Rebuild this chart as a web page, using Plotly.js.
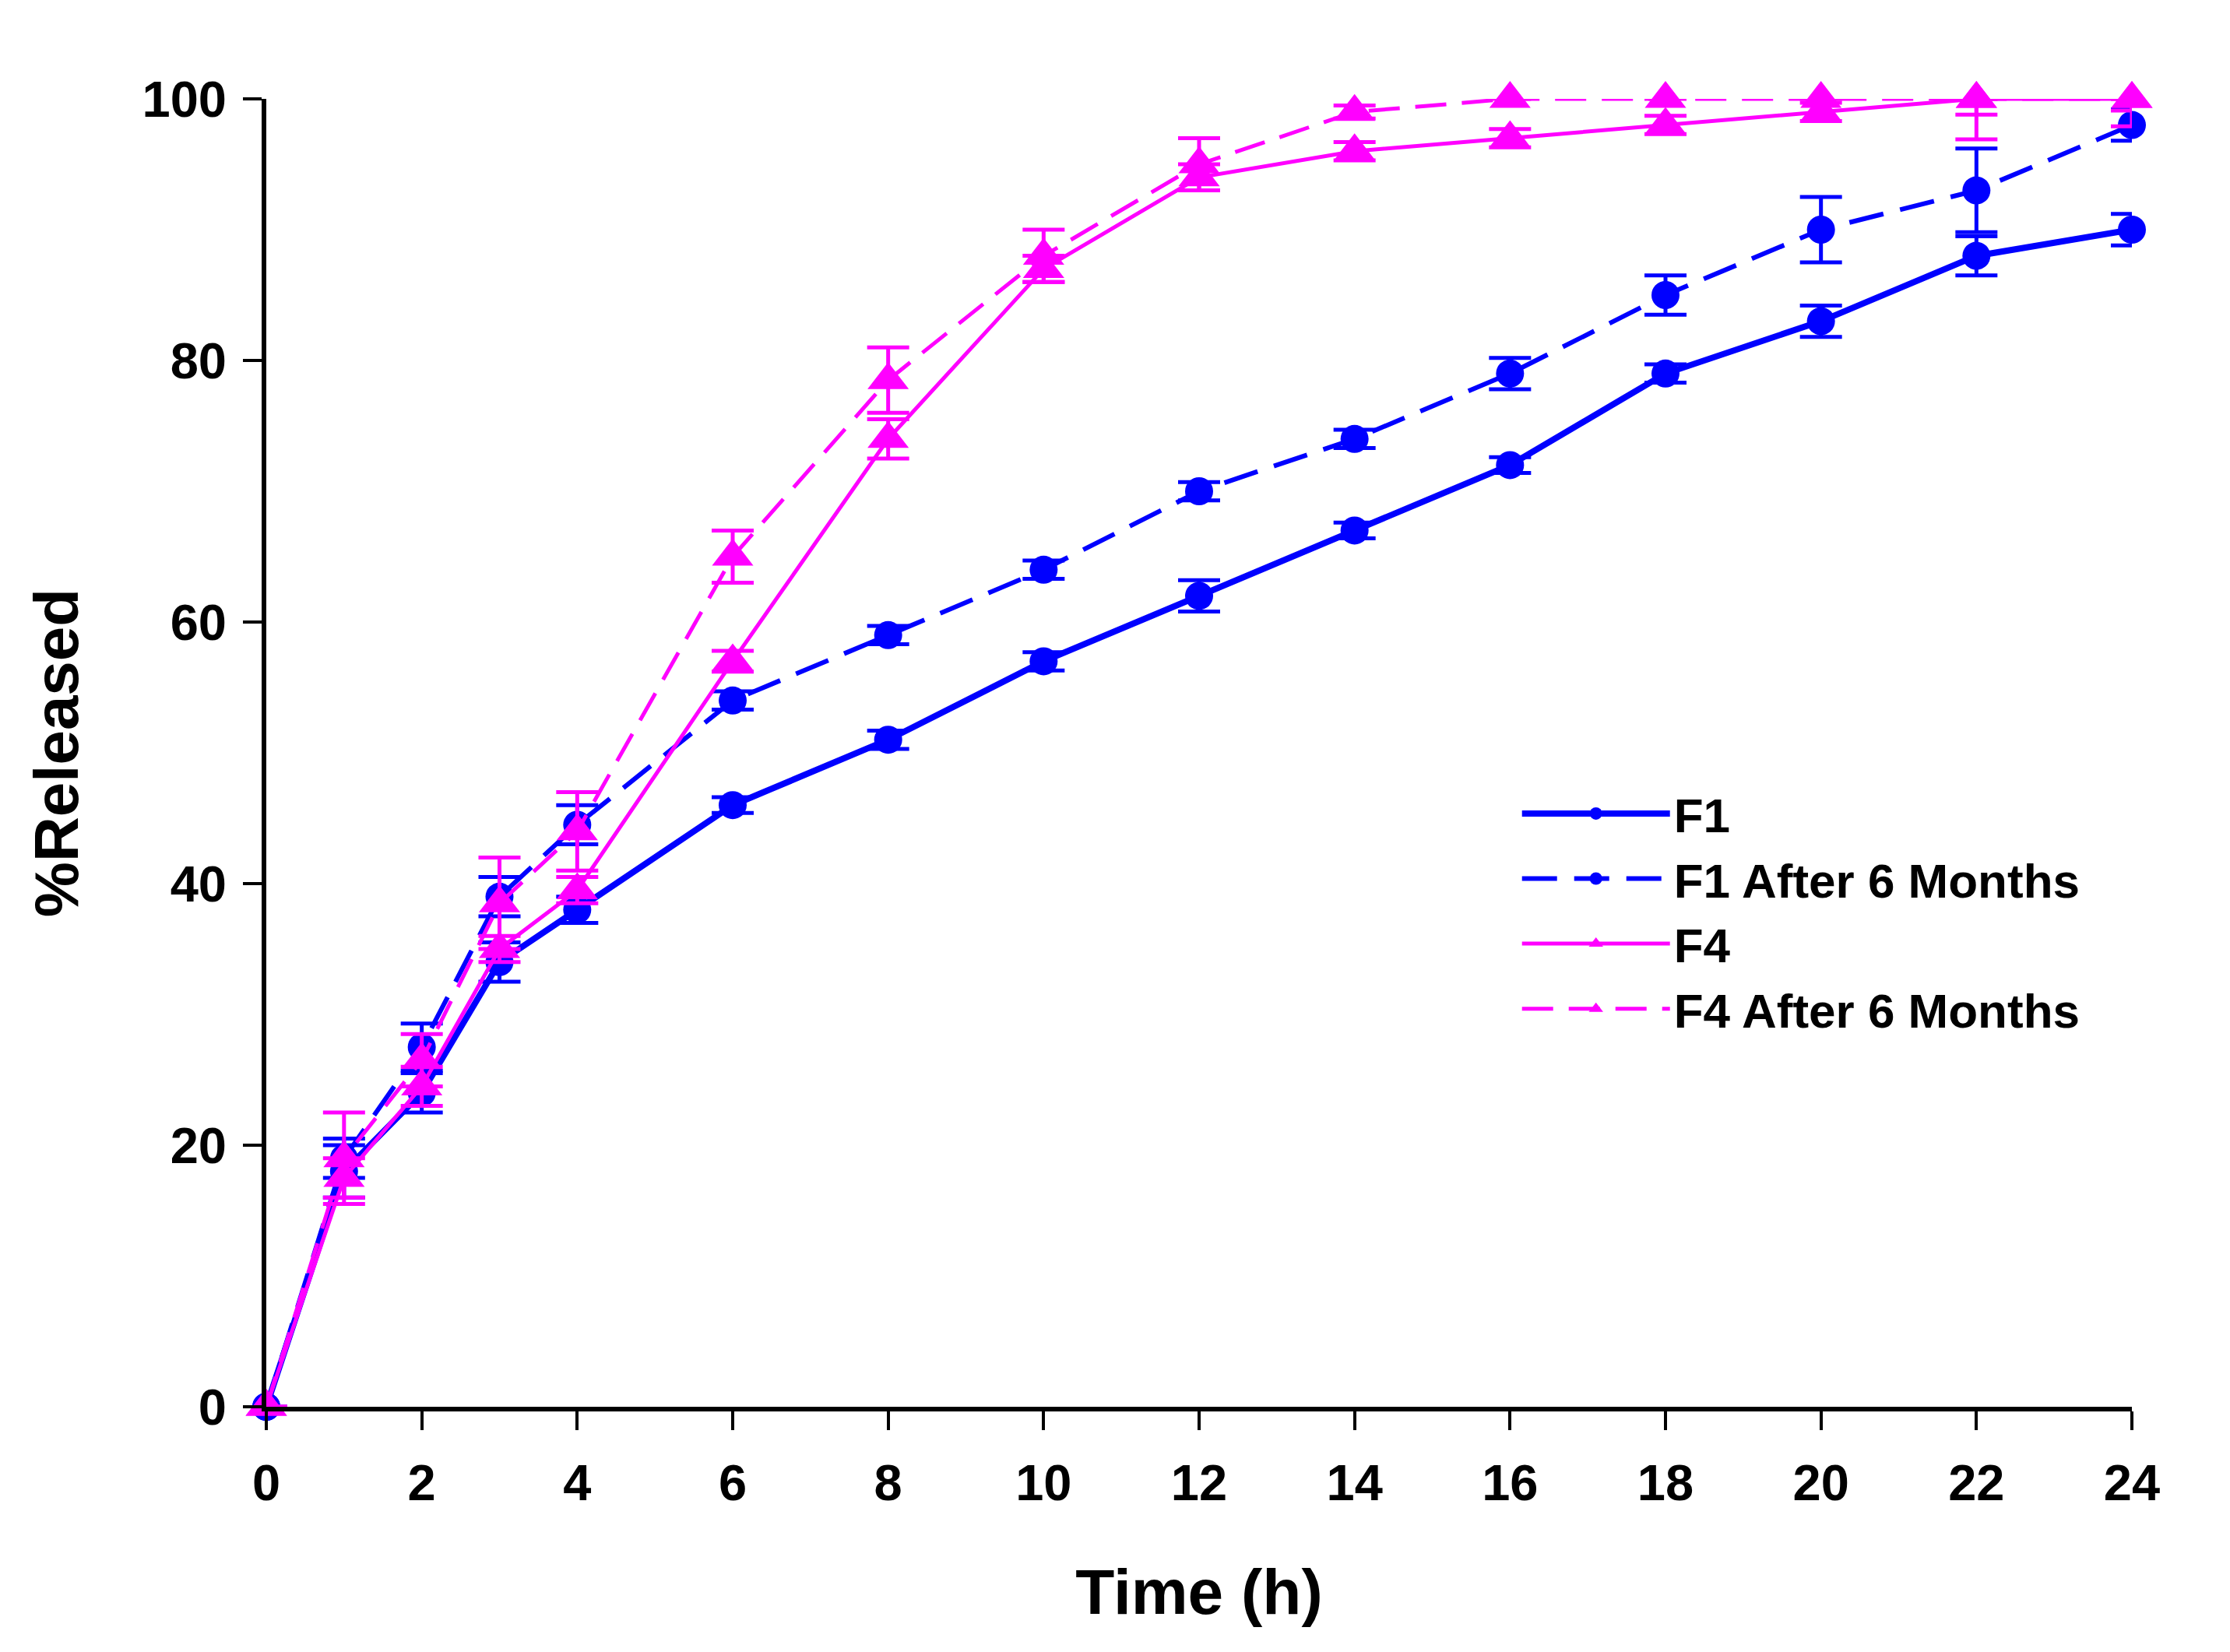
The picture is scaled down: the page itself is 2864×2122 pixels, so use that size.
<!DOCTYPE html>
<html>
<head>
<meta charset="utf-8">
<script src="https://cdn.plot.ly/plotly-3.0.1.min.js"></script>
<style>html,body{margin:0;padding:0;background:#fff;}#chart{width:2864px;height:2122px;}</style>
</head>
<body>
<div id="chart"></div>
<script>
// ---- data ----
var time = [0, 1, 2, 3, 4, 6, 8, 10, 12, 14, 16, 18, 20, 22, 24];

var f1      = [0, 18, 24, 34, 38, 46, 51, 57, 62, 67, 72, 79, 83, 88, 90];
var f1Err   = [0, 2, 1.5, 1.5, 1, 0.6, 0.7, 0.7, 1.2, 0.6, 0.6, 0.7, 1.2, 1.5, 1.2];

var f1After    = [0, 19, 27.5, 39, 44.5, 54, 59, 64, 70, 74, 79, 85, 90, 93, 98];
var f1AfterErr = [0, 1.5, 1.8, 1.5, 1.5, 0.7, 0.7, 0.7, 0.7, 0.7, 1.2, 1.5, 2.5, 3.2, 1.2];

var f4      = [0, 17.5, 24.5, 35, 39.5, 57, 74, 87, 94, 96, 97, 98, 99, 100, 100];
var f4Err   = [0, 1.5, 1.5, 1, 1, 0.8, 1.5, 1, 1, 0.7, 0.7, 0.7, 0.7, 1.2, 0.9];

var f4After    = [0, 19, 26.5, 38.5, 44, 65, 78.5, 88, 95, 99, 100, 100, 100, 100, 100];
var f4AfterErr = [0, 3.5, 2, 3.5, 3, 2, 2.5, 2, 2, 0.5, 0, 0, 0, 3.1, 2.1];

var seriesNames = ['F1', 'F1 After 6 Months', 'F4', 'F4 After 6 Months'];
var xTicks = [0, 2, 4, 6, 8, 10, 12, 14, 16, 18, 20, 22, 24];
var yTicks = [0, 20, 40, 60, 80, 100];

// ---- styling ----
var BLUE = '#0000FF', MAG = '#FF00FF';
var FONT = '"Liberation Sans", Arial, sans-serif';

function upper(vals, errs) {
  return errs.map(function (e, i) { return Math.max(0, Math.min(e, 100 - vals[i])); });
}

function mk(name, y, err, color, dash, width, symbol, size) {
  return {
    type: 'scatter', mode: 'lines+markers', name: name,
    x: time, y: y, cliponaxis: false,
    line: {color: color, width: width, dash: dash},
    marker: {color: color, symbol: symbol, size: size, line: {width: 0}},
    error_y: {type: 'data', symmetric: false, array: upper(y, err), arrayminus: err,
              color: color, thickness: 5, width: 27, visible: true}
  };
}

var traces = [
  mk(seriesNames[0], f1, f1Err, BLUE, 'solid', 8, 'circle', 36),
  mk(seriesNames[1], f1After, f1AfterErr, BLUE, '45px,22px', 6, 'circle', 36),
  mk(seriesNames[2], f4, f4Err, MAG, 'solid', 5, 'triangle-up', 46),
  mk(seriesNames[3], f4After, f4AfterErr, MAG, '40px,20px', 5, 'triangle-up', 46)
];

var layout = {
  width: 2864, height: 2122,
  paper_bgcolor: '#fff', plot_bgcolor: '#fff',
  margin: {l: 342, r: 126, t: 127, b: 315, pad: 0},
  font: {family: FONT, size: 64, color: '#000', weight: 'bold'},
  showlegend: true,
  legend: {
    x: 0.671, y: 0.4815, xanchor: 'left', yanchor: 'top',
    bgcolor: 'rgba(0,0,0,0)', borderwidth: 0,
    font: {family: FONT, size: 62, color: '#000', weight: 'bold'},
    itemwidth: 190, itemsizing: 'trace', tracegroupgap: 0
  },
  xaxis: {
    range: [0, 24], tickvals: xTicks, ticktext: xTicks.map(String),
    showgrid: false, zeroline: false,
    showline: true, linecolor: '#000', linewidth: 6,
    ticks: 'outside', ticklen: 24, tickwidth: 4, tickcolor: '#000',
    ticklabelstandoff: 12,
    tickfont: {family: FONT, size: 65, color: '#000', weight: 'bold'},
    title: {text: 'Time (h)', standoff: 78,
            font: {family: FONT, size: 82, color: '#000', weight: 'bold'}}
  },
  yaxis: {
    range: [0, 100], tickvals: yTicks, ticktext: yTicks.map(String),
    showgrid: false, zeroline: false,
    showline: true, linecolor: '#000', linewidth: 6,
    ticks: 'outside', ticklen: 24, tickwidth: 4, tickcolor: '#000',
    ticklabelstandoff: 8,
    tickfont: {family: FONT, size: 65, color: '#000', weight: 'bold'},
    title: {text: '%Released', standoff: 58,
            font: {family: FONT, size: 80, color: '#000', weight: 'bold'}}
  }
};

Plotly.newPlot('chart', traces, layout, {staticPlot: true, displayModeBar: false});
</script>
</body>
</html>
